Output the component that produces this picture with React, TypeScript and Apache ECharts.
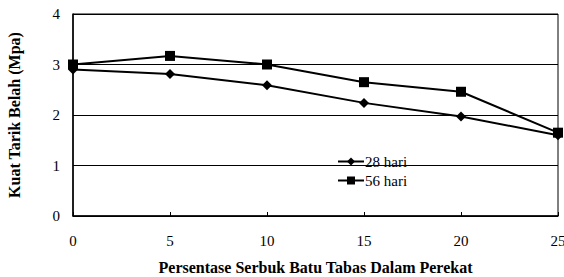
import React, { useEffect, useRef } from "react";
import * as echarts from "echarts";

const xValues = [0, 5, 10, 15, 20, 25];
const hari28 = [2.9, 2.81, 2.59, 2.24, 1.97, 1.6];
const hari56 = [3.0, 3.17, 3.0, 2.65, 2.46, 1.65];
const seriesNames = ["28 hari", "56 hari"];

const font = "'Liberation Serif', 'Times New Roman', serif";

export default function App() {
  const ref = useRef<HTMLDivElement>(null);
  useEffect(() => {
    if (!ref.current) return;
    const chart = echarts.init(ref.current, null, { renderer: "svg" });
    chart.setOption({
      animation: false,
      textStyle: { fontFamily: font },
      grid: {
        left: 73,
        right: 6,
        top: 14,
        bottom: 61,
        show: true,
        borderColor: "#000",
        borderWidth: 1,
        containLabel: false,
        outerBoundsMode: "none",
      },
      legend: {
        orient: "vertical",
        left: 332,
        top: 149,
        itemWidth: 26,
        itemHeight: 10,
        itemGap: 4,
        textStyle: { fontFamily: font, fontSize: 15, color: "#000", padding: [0, 0, 0, -4] },
        data: seriesNames,
      },
      xAxis: {
        type: "value",
        min: 0,
        max: 25,
        interval: 5,
        name: "Persentase Serbuk Batu Tabas Dalam Perekat",
        nameLocation: "middle",
        nameGap: 43,
        nameTextStyle: { fontFamily: font, fontSize: 16, fontWeight: "bold", color: "#000" },
        axisLine: { show: true, lineStyle: { color: "#000", width: 1.5 } },
        axisTick: { show: true, inside: true, length: 4, lineStyle: { color: "#000" } },
        axisLabel: { margin: 17, fontFamily: font, fontSize: 15, color: "#000" },
        splitLine: { show: false },
      },
      yAxis: {
        type: "value",
        min: 0,
        max: 4,
        interval: 1,
        name: "Kuat Tarik Belah (Mpa)",
        nameLocation: "middle",
        nameGap: 51,
        nameTextStyle: { fontFamily: font, fontSize: 16, fontWeight: "bold", color: "#000" },
        axisLine: { show: true, lineStyle: { color: "#000", width: 1.5 } },
        axisTick: { show: false },
        axisLabel: { margin: 13, fontFamily: font, fontSize: 15, color: "#000" },
        splitLine: { show: true, lineStyle: { color: "#000", width: 1 } },
      },
      series: [
        {
          name: seriesNames[0],
          type: "line",
          data: xValues.map((x, i) => [x, hari28[i]]),
          symbol: "diamond",
          symbolSize: 10,
          lineStyle: { color: "#000", width: 2 },
          itemStyle: { color: "#000" },
        },
        {
          name: seriesNames[1],
          type: "line",
          data: xValues.map((x, i) => [x, hari56[i]]),
          symbol: "rect",
          symbolSize: 10,
          lineStyle: { color: "#000", width: 2 },
          itemStyle: { color: "#000" },
        },
      ],
    });
    return () => chart.dispose();
  }, []);
  return (
    <div
      ref={ref}
      style={{ position: "fixed", left: 0, top: 0, width: 564, height: 277, background: "#fff" }}
    />
  );
}
